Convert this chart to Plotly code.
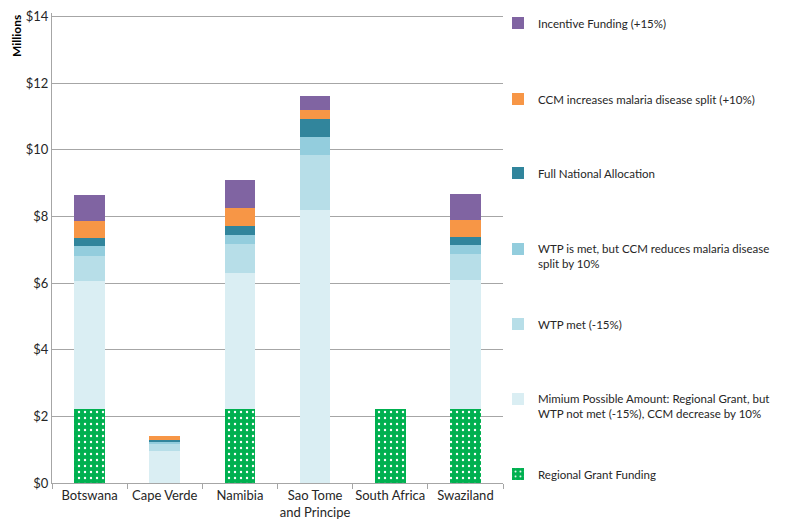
import plotly.graph_objects as go

categories = ["Botswana", "Cape Verde", "Namibia", "Sao Tome<br>and Principe", "South Africa", "Swaziland"]

regional_grant = [2.21, 0, 2.21, 0, 2.21, 2.21]
minimum_amount = [3.86, 0.96, 4.10, 8.20, 0, 3.89]
wtp_met = [0.75, 0.22, 0.86, 1.63, 0, 0.76]
wtp_met_ccm_reduces = [0.28, 0.06, 0.27, 0.54, 0, 0.27]
full_national = [0.24, 0.05, 0.27, 0.54, 0, 0.24]
ccm_increases = [0.51, 0.12, 0.55, 0.29, 0, 0.52]
incentive = [0.79, 0, 0.83, 0.41, 0, 0.78]

series_names = [
    "Regional Grant Funding",
    "Mimium Possible Amount: Regional Grant, but<br>WTP not met (-15%), CCM decrease by 10%",
    "WTP met (-15%)",
    "WTP is met, but CCM reduces malaria disease<br>split by 10%",
    "Full National Allocation",
    "CCM increases malaria disease split (+10%)",
    "Incentive Funding (+15%)",
]
series_values = [regional_grant, minimum_amount, wtp_met, wtp_met_ccm_reduces,
                 full_national, ccm_increases, incentive]
colors = ["#00B050", "#DAEEF3", "#B7DEE8", "#93CDDD", "#31859C", "#F79646", "#8064A2"]

y_ticks = [0, 2, 4, 6, 8, 10, 12, 14]
y_tick_labels = ["$" + str(v) for v in y_ticks]

FONT = "Lato"
TEXT_COLOR = "#262626"

W, H = 777, 517
M_L, M_R, M_T, M_B = 44, 282, 5, 42
plot_h = H - M_T - M_B

fig = go.Figure()
legend_ids = ["legend7", "legend6", "legend5", "legend4", "legend3", "legend2", "legend"]
for i, (name, vals, col) in enumerate(zip(series_names, series_values, colors)):
    marker = dict(color=col, line=dict(width=0))
    if i == 0:
        marker["pattern"] = dict(shape=".", fgcolor="white", bgcolor=col,
                                 size=6, solidity=0.12, fillmode="replace")
    fig.add_trace(go.Bar(x=categories, y=vals, name=name, marker=marker,
                         legend=legend_ids[i]))

# legend placement (top to bottom), legend top in figure pixels
legend_tops_px = [1, 77, 151, 227, 302, 377, 452]
legend_order = ["legend", "legend2", "legend3", "legend4", "legend5", "legend6", "legend7"]
layout_legends = {}
for lid, top in zip(legend_order, legend_tops_px):
    layout_legends[lid] = dict(
        x=0.9889, xanchor="left",
        y=(H - M_B - top) / plot_h, yanchor="top",
        valign="top",
        bgcolor="rgba(0,0,0,0)",
        font=dict(family=FONT, size=11.5, color=TEXT_COLOR),
        itemclick=False, itemdoubleclick=False,
    )

fig.update_layout(
    width=W, height=H,
    margin=dict(l=M_L, r=M_R, t=M_T, b=M_B, autoexpand=False),
    paper_bgcolor="white", plot_bgcolor="white",
    barmode="stack", bargap=0.59,
    font=dict(family=FONT, size=13, color=TEXT_COLOR),
    showlegend=True,
    **layout_legends,
)

fig.update_yaxes(
    range=[0, 14.1], tickvals=y_ticks, ticktext=y_tick_labels,
    showgrid=True, gridcolor="#A6A6A6", gridwidth=1,
    showline=True, linecolor="#A6A6A6", linewidth=1,
    zeroline=False, ticks="", ticklen=0, automargin=False,
    ticklabeloverflow="allow",
    tickfont=dict(family=FONT, size=13, color=TEXT_COLOR),
)
fig.update_xaxes(
    showline=True, linecolor="#A6A6A6", linewidth=1,
    ticks="outside", tickson="boundaries", ticklen=5, tickcolor="#A6A6A6",
    showgrid=False, tickangle=0, automargin=False,
    tickfont=dict(family=FONT, size=13, color=TEXT_COLOR),
)

fig.add_annotation(
    text="<b>Millions</b>", textangle=-90,
    xref="paper", yref="paper", x=-0.0798, y=1.0,
    xanchor="center", yanchor="top", showarrow=False,
    font=dict(family=FONT, size=12, color="#000000"),
)

fig.write_html("out.html")
